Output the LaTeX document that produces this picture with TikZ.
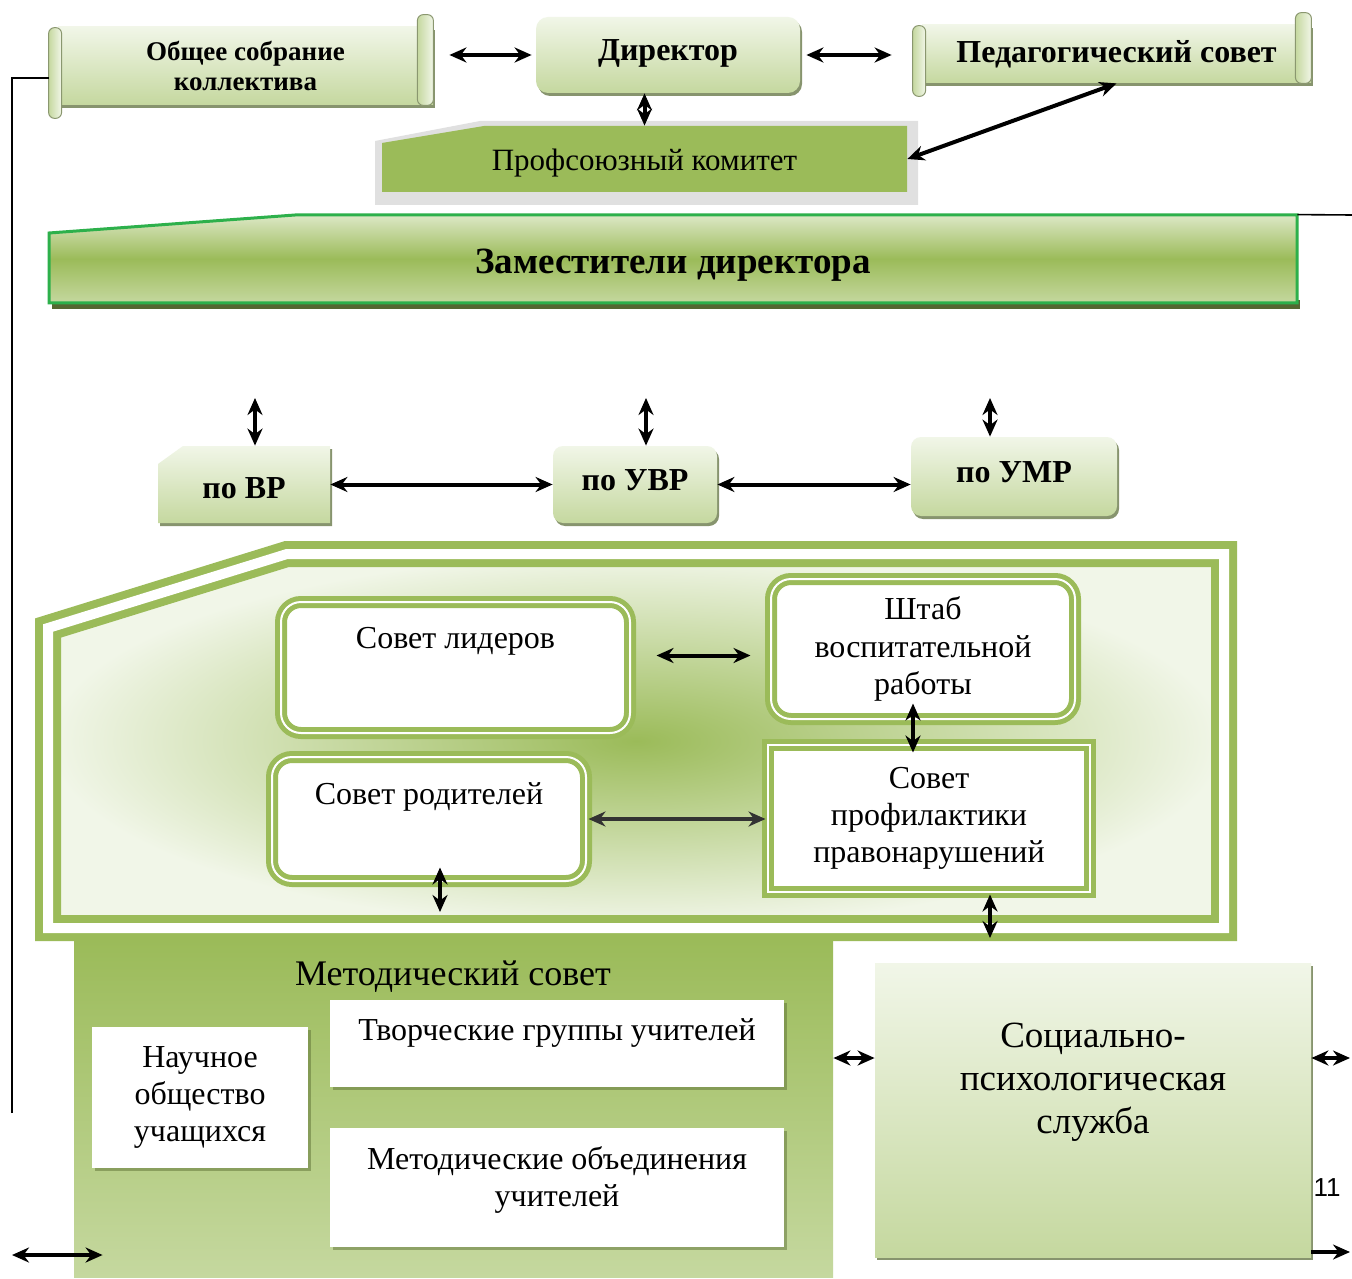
\documentclass[tikz,border=0pt]{standalone}
\usepackage{fontspec}
\setmainfont{Liberation Serif}
\setsansfont{Liberation Sans}
\usetikzlibrary{positioning,calc,fit,shadows,arrows.meta}
\definecolor{ogreen}{HTML}{9BBB59}
\definecolor{lgreen}{HTML}{C5D89F}
\definecolor{pale}{HTML}{F1F6E8}
\definecolor{bgreen}{HTML}{2DB04B}
\tikzset{>={Stealth[length=8.5pt,width=7.5pt]}}
\tikzset{
  arr/.style={line width=2pt},
  bf/.style={font=\fontsize{16}{19}\selectfont\bfseries},
  rm/.style={font=\fontsize{16}{18.6}\selectfont},
  mid/.style={label={[align=center,#1]center:}},
  lightbox/.style={top color=pale, bottom color=lgreen, inner sep=0pt,
    drop shadow={shadow xshift=1pt, shadow yshift=-1.5pt, fill=black!45!ogreen, opacity=.7}},
  roll/.style={draw=lgreen!70!black, line width=.5pt, rounded corners=3pt, left color=lgreen, right color=pale},
  inbox/.style={draw=ogreen, line width=2.5pt, double=white, double distance=1pt, fill=white, inner sep=0pt},
  wbox/.style={fill=white, inner sep=0pt,
    drop shadow={shadow xshift=1.5pt, shadow yshift=-1.5pt, fill=ogreen!60!black, opacity=.5}},
  lbl/.style={anchor=north, yshift=-10.5pt, rm, align=center},
  ctr/.style={align=center, rm}
}
\def\link#1#2{
  \path [<->,arr] (#1) edge (#2);
}
\def\scroll#1{
  \path [roll] ([xshift=-4.5pt,yshift=-.5pt]#1.north west) rectangle ([xshift=2pt,yshift=-6.5pt]#1.south west);
  \path [roll] ([xshift=-8pt,yshift=6pt]#1.north east) rectangle (#1.south east);
}

\begin{document}
\begin{tikzpicture}[x=.5pt,y=-.5pt]
\fill[white] (0,0) rectangle (1352,1278);
\useasboundingbox (0,0) rectangle (1352,1278);
% top row
\node[lightbox, fit={(58,27) (433,105)},
  label={[align=center,font=\fontsize{13.5}{15}\selectfont\bfseries]center:Общее собрание\\коллектива}] (meet) {};
\scroll{meet}
\node[lightbox, rounded corners=6pt, fit={(536,17) (800,93)}, label={[bf,yshift=1pt]center:Директор}] (dir) {};
\node[lightbox, fit={(922,25) (1311,83)}, label={[bf]center:Педагогический совет}] (ped) {};
\scroll{ped}
\fill[black!12] (375,141) -- (480,121) -- (918,121) -- (918,205) -- (375,205) -- cycle;
\fill[ogreen] (382,143) -- (484,126) -- (907,126) -- (907,192) -- (382,192) -- cycle;
\node[fit={(382,126) (907,192)}, inner sep=0pt,
  label={[font=\fontsize{15.5}{18}\selectfont,yshift=-2pt]center:Профсоюзный комитет}] (union) {};
\draw[<->,arr,shorten <=8pt,shorten >=2pt] (meet.east |- dir) -- (dir.west);
\draw[<->,arr,shorten <=3pt,shorten >=15pt] (dir.east) -- (ped.west |- dir.east);
\link{dir.south -| union.north}{union.north}
\link{union.east}{ped.south}
% deputies
\fill[black!45!ogreen] (52,300) rectangle (1300,309);
\path[draw=bgreen, line width=1.5pt, top color=lgreen!60!white, bottom color=lgreen, middle color=ogreen]
  (49,233) -- (295,215) -- (1297,215) -- (1297,303) -- (49,303) -- cycle;
\node[fit={(49,215) (1297,303)}, inner sep=0pt,
  label={[font=\fontsize{18.5}{22}\selectfont\bfseries,yshift=-3pt]center:Заместители директора}] (zam) {};
\coordinate (redge) at (1352,215);
\draw[line width=.8pt] (zam.north east) -- (redge);
\coordinate (ltop) at (12,78);
\coordinate (lbot) at (12,1113);
\draw[line width=1pt] (lbot) -- (ltop) -- ([xshift=-4.5pt]meet.west |- ltop);
\path[lightbox] (158,464) -- (183,446) -- (330,446) -- (330,523) -- (158,523) -- cycle;
\node[fit={(158,446) (330,523)}, inner sep=0pt, label={[bf,yshift=-2pt]center:по ВР}] (vr) {};
\node[lightbox, rounded corners=5pt, fit={(553,446) (717,523)}, label={[bf,yshift=2pt]center:по УВР}] (uvr) {};
\node[lightbox, rounded corners=5pt, fit={(911,437) (1117,516)}, label={[bf,yshift=2pt]center:по УМР}] (umr) {};
\coordinate (vrtop) at (255,398);
\coordinate (uvrtop) at (646,398);
\coordinate (umrtop) at (990,398);
\link{vrtop}{vrtop |- vr.north}
\link{uvrtop}{uvrtop |- uvr.north}
\link{umrtop}{umrtop |- umr.north}
\link{vr.east}{uvr.west}
\link{uvr.east}{umr.west |- uvr.east}
% councils
\path[draw=ogreen, line width=4pt, double=white, double distance=5pt, inner color=ogreen, outer color=pale]
  (48,628) -- (287,554) -- (1224,554) -- (1224,928) -- (48,928) -- cycle;
\node[inbox, rounded corners=10pt, fit={(281,602) (630,733)}, label={[lbl]north:Совет лидеров}] (lead) {};
\node[inbox, rounded corners=10pt, fit={(771,579) (1075,719)},
  label={[ctr]center:Штаб\\воспитательной\\работы}] (shtab) {};
\node[inbox, rounded corners=10pt, fit={(272,757) (586,881)}, label={[lbl]north:Совет родителей}] (rod) {};
\node[inbox, fit={(768,745) (1090,892)},
  label={[ctr]center:Совет\\профилактики\\правонарушений}] (prev) {};
\coordinate (ls) at ([yshift=6pt]lead.east);
\draw[<->,arr,shorten <=12pt,shorten >=9pt] (ls) -- (ls -| shtab.west);
\draw[<->,arr,black!80] (rod.east) -- (rod.east -| prev.west);
\coordinate (sp) at ([xshift=-5pt]shtab.south);
\draw[<->,arr,shorten <=-9pt,shorten >=-5pt] (sp) -- (sp |- prev.north);
\coordinate (rodend) at (440,912);
\draw[<->,arr,shorten <=-8pt] (rodend |- rod.south) -- (rodend);
\coordinate (prevend) at (990,938);
\link{prevend |- prev.south}{prevend}
% methodical council
\node[fit={(74,940) (833,1277)}, inner sep=0pt, top color=ogreen, bottom color=lgreen] (met) {};
\node[font=\fontsize{18}{21}\selectfont] (mettitle) at (453,977) {Методический совет};
\node[wbox, fit={(330,1000) (784,1087)}, label={[lbl,yshift=4.5pt]north:Творческие группы учителей}] (tvor) {};
\node[wbox, fit={(330,1128) (784,1247)}, label={[lbl,yshift=4.5pt]north:Методические объединения\\учителей}] (metob) {};
\node[wbox, fit={(92,1027) (308,1168)}, label={[ctr]center:Научное\\общество\\учащихся}] (nauch) {};
\node[lightbox, fit={(875,963) (1311,1257)},
  label={[lbl,yshift=-16pt,font=\fontsize{18.5}{21.7}\selectfont]north:Социально-\\психологическая\\служба}] (soc) {};
\node[font=\sffamily\fontsize{13}{15}\selectfont] (pnum) at (1327,1188) {11};
\coordinate (rarr) at (1350,1058);
\coordinate (rbot) at (1350,1252);
\coordinate (larr) at (12,1255);
\coordinate (metin) at ([xshift=14.5pt]met.west);
\link{met.east |- rarr}{soc.west |- rarr}
\link{soc.east |- rarr}{rarr}
\draw[->,arr] (soc.east |- rbot) -- (rbot);
\draw[<->,arr] (larr) -- (metin |- larr);
\end{tikzpicture}
\end{document}
